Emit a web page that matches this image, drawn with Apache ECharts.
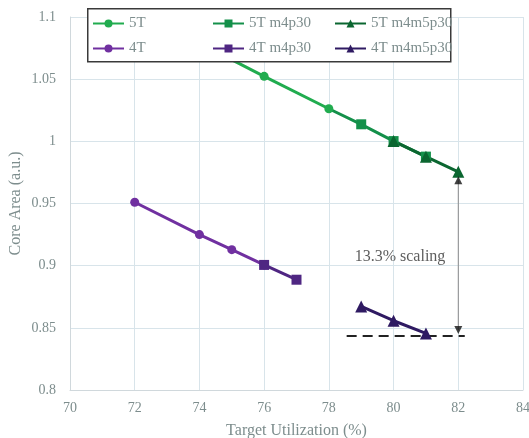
<!DOCTYPE html>
<html>
<head>
<meta charset="utf-8">
<script src="https://cdn.jsdelivr.net/npm/echarts@6/dist/echarts.min.js"></script>
<style>
html,body{margin:0;padding:0;background:#fff;}
#c{width:529px;height:438px;}
</style>
</head>
<body>
<div id="c"></div>
<script>
// ---- data ----
var xTicks = [70, 72, 74, 76, 78, 80, 82, 84];
var s5T = [[74, 1.079], [76, 1.0523], [78, 1.0262]];
var s5Tm4p30 = [[78, 1.0262], [79, 1.0137], [80, 1.0002], [81, 0.9877]];
var s5Tm4m5p30 = [[80, 1.0002], [81, 0.9877], [82, 0.9755]];
var s4T = [[72, 0.951], [74, 0.925], [75, 0.9129], [76, 0.9006]];
var s4Tm4p30 = [[76, 0.9006], [77, 0.8887]];
var s4Tm4m5p30 = [[79, 0.8672], [80, 0.8557], [81, 0.8455]];
var refLineX = [78.55, 82.2];
var refLineY = 0.8435;
var arrowX = 82;
var arrowTop = 0.9686;
var arrowBottom = 0.8482;
var annotText = '13.3% scaling';
var annotPos = [80.2, 0.9068];

var serif = "'Liberation Serif', 'DejaVu Serif', serif";
var gray = '#7d8d8d';

function lineSeries(name, data, color, symbol, size, skipFirst) {
  return {
    name: name, type: 'line', data: data.map(function (d, i) {
      if (skipFirst && i === 0) return { value: d, symbol: 'none' };
      return d;
    }),
    symbol: symbol, symbolSize: size, showAllSymbol: true,
    lineStyle: { color: color, width: 3 },
    itemStyle: { color: color },
    emphasis: { disabled: true },
    animation: false
  };
}

var chart = echarts.init(document.getElementById('c'));
var legendCommon = {
  orient: 'vertical', top: 16, padding: 0, itemGap: 10,
  itemWidth: 31, itemHeight: 10,
  textStyle: { fontFamily: serif, fontSize: 15, color: gray },
  z: 5
};
chart.setOption({
  animation: false,
  backgroundColor: '#fff',
  grid: { left: 70, right: 6, top: 17, bottom: 48, outerBoundsMode: 'none', containLabel: false },
  xAxis: {
    type: 'value', min: 70, max: 84, interval: 2,
    name: 'Target Utilization (%)', nameLocation: 'middle', nameGap: 33, nameMoveOverlap: false,
    nameTextStyle: { fontFamily: serif, fontSize: 16, color: gray },
    axisLine: { show: true, lineStyle: { color: '#d0d8dc' } },
    axisTick: { show: false },
    axisLabel: { fontFamily: serif, fontSize: 14, color: gray, margin: 11 },
    splitLine: { show: true, lineStyle: { color: '#d8e4ea', width: 1 } }
  },
  yAxis: {
    type: 'value', min: 0.8, max: 1.1, interval: 0.05,
    name: 'Core Area (a.u.)', nameLocation: 'middle', nameGap: 46, nameMoveOverlap: false,
    nameTextStyle: { fontFamily: serif, fontSize: 16, color: gray },
    axisLine: { show: true, lineStyle: { color: '#d0d8dc' } },
    axisTick: { show: false },
    axisLabel: { fontFamily: serif, fontSize: 14, color: gray, margin: 14 },
    splitLine: { show: true, lineStyle: { color: '#d8e4ea', width: 1 } }
  },
  graphic: [{
    type: 'rect', left: 87, top: 8, z: 4,
    shape: { width: 363, height: 53 },
    style: { fill: '#fff', stroke: '#3a3a3a', lineWidth: 1.5 }
  }],
  legend: [
    Object.assign({}, legendCommon, { left: 92, data: ['5T', '4T'] }),
    Object.assign({}, legendCommon, { left: 212, data: ['5T m4p30', '4T m4p30'] }),
    Object.assign({}, legendCommon, { left: 334, data: ['5T m4m5p30', '4T m4m5p30'] })
  ],
  series: [
    lineSeries('5T', s5T, '#21ac4f', 'circle', 9, false),
    lineSeries('5T m4p30', s5Tm4p30, '#14904a', 'rect', 10, true),
    lineSeries('5T m4m5p30', s5Tm4m5p30, '#0b6630', 'triangle', 12, false),
    lineSeries('4T', s4T, '#7030a0', 'circle', 9, false),
    lineSeries('4T m4p30', s4Tm4p30, '#4f2682', 'rect', 10, false),
    lineSeries('4T m4m5p30', s4Tm4m5p30, '#2f1a62', 'triangle', 12, false),
    {
      name: 'ref', type: 'line', data: refLineX.map(function (x) { return [x, refLineY]; }),
      symbol: 'none', lineStyle: { color: '#222', width: 2, type: [10, 6] },
      z: 1, emphasis: { disabled: true }, silent: true
    },
    {
      name: 'arrowShaft', type: 'line', data: [[arrowX, arrowTop], [arrowX, arrowBottom]],
      symbol: 'none', lineStyle: { color: '#8a8a8a', width: 1 },
      z: 1, emphasis: { disabled: true }, silent: true
    },
    {
      name: 'arrowHeads', type: 'scatter',
      data: [{ value: [arrowX, arrowTop], symbolRotate: 0 }, { value: [arrowX, arrowBottom], symbolRotate: 180 }],
      symbol: 'triangle', symbolSize: 8, itemStyle: { color: '#111' },
      z: 3, emphasis: { disabled: true }, silent: true
    },
    {
      name: 'annot', type: 'scatter', data: [annotPos], symbolSize: 0,
      label: { show: true, position: 'inside', formatter: annotText, fontFamily: serif, fontSize: 16, color: '#333' },
      emphasis: { disabled: true }, silent: true
    }
  ]
});
</script>
</body>
</html>
